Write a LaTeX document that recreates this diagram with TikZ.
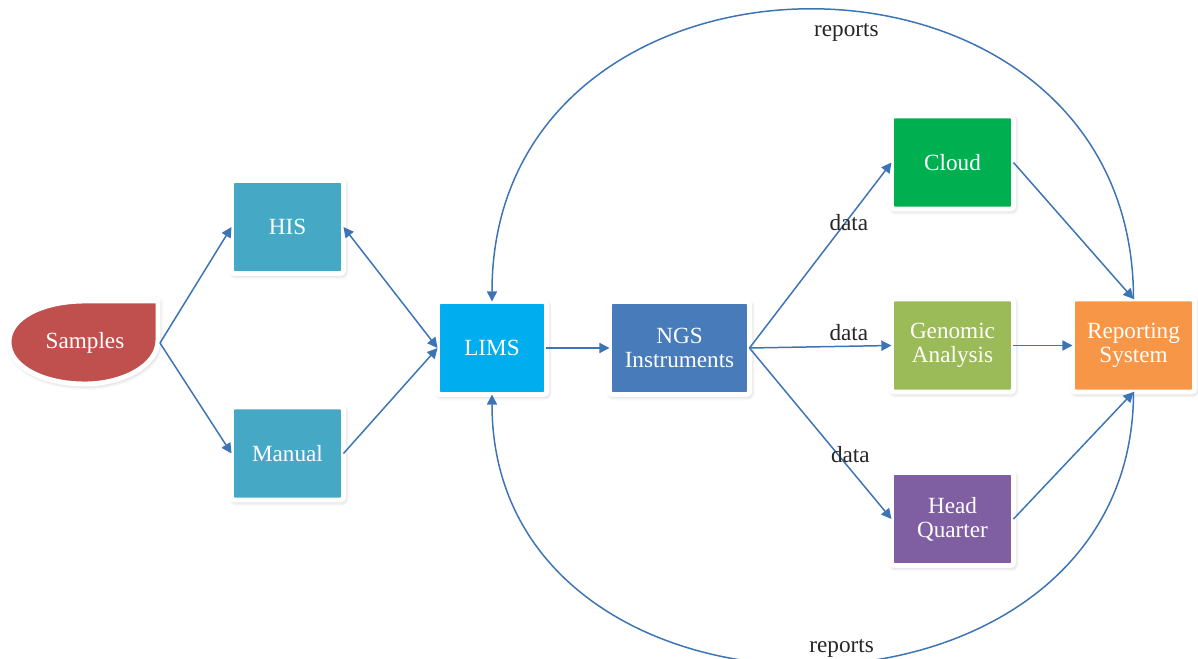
\documentclass[tikz,border=0pt]{standalone}
\usepackage{fontspec}
\setmainfont{Liberation Serif}
\usetikzlibrary{arrows.meta,shadows.blur}
\definecolor{flow}{HTML}{3D74B6}
\definecolor{smpred}{HTML}{C0504D}
\definecolor{hisblue}{HTML}{45A9C5}
\definecolor{limsblue}{HTML}{00AEEF}
\definecolor{ngsblue}{HTML}{477BBA}
\definecolor{cloudgreen}{HTML}{00B050}
\definecolor{genogreen}{HTML}{9BBB59}
\definecolor{hqpurple}{HTML}{7F5FA1}
\definecolor{reporange}{HTML}{F79646}
\tikzset{softshadow/.style={blur shadow={shadow xshift=0.7pt,shadow yshift=-1pt,shadow blur radius=2.5pt,shadow opacity=28}},
  blk/.style={draw=white,line width=2.8pt,rounded corners=1.5pt,align=center,text=white,outer sep=0pt,
    inner sep=2pt,minimum width=2.44cm,minimum height=1.86cm,softshadow},
  arr/.style={->,flow,line width=0.85pt},
  lbl/.style={text=black!85,inner sep=1pt}}

\begin{document}
\begin{tikzpicture}[x=0.02cm,y=-0.02cm,font=\fontsize{13.2}{13.8}\selectfont,>={Triangle[length=5.8pt,width=5.8pt]}]
\useasboundingbox (0,0) rectangle (1198,659);
\draw[white,line width=2.8pt,line join=round,fill=smpred,softshadow] (158,301) -- (158,340)
  .. controls (158,366) and (122,384) .. (85,384) .. controls (42,384) and (9,366) .. (9,342)
  .. controls (9,318) and (42,301) .. (85,301) -- cycle;
\node[text=white] (samples) at (85,343) {Samples};
\coordinate (smp-tip) at (160,343);
\node[blk,fill=hisblue,minimum width=2.24cm] (his) at (287.5,227) {HIS};
\node[blk,fill=hisblue,minimum width=2.24cm] (manual) at (287.5,453.5) {Manual};
\node[blk,fill=limsblue,minimum width=2.18cm] (lims) at (492,348) {LIMS};
\node[blk,fill=ngsblue,minimum width=2.8cm] (ngs) at (679.5,348) {NGS\\Instruments};
\node[blk,fill=cloudgreen] (cloud) at (952.5,162.5) {Cloud};
\node[blk,fill=genogreen] (genomic) at (952.5,345.5) {Genomic\\Analysis};
\node[blk,fill=hqpurple] (hq) at (952.5,519) {Head\\Quarter};
\node[blk,fill=reporange] (report) at (1133.5,345.5) {Reporting\\System};
\draw[arr] (smp-tip) -- (his.west);
\draw[arr] (smp-tip) -- (manual.west);
\draw[arr,<->] (his.east) -- (lims.west);
\draw[arr] (manual.east) -- (lims.west);
\draw[arr] (lims) -- (ngs);
\draw[arr] (ngs.east) -- node[lbl,pos=.7,yshift=-0.08cm] {data} (cloud.west);
\draw[arr] (ngs.east) -- node[lbl,pos=.7,yshift=0.27cm] {data} (genomic.west);
\draw[arr] (ngs.east) -- node[lbl,pos=.71,yshift=0.3cm] {data} (hq.west);
\draw[arr] (cloud.east) -- (report.north);
\draw[arr] (genomic) -- (report);
\draw[arr] (hq.east) -- (report.south);
\draw[arr] (report.north) .. controls +(0,-387) and +(0,-387) .. node[lbl,pos=.465,yshift=-0.42cm] {reports} (lims.north);
\draw[arr] (report.south) .. controls +(0,361) and +(0,361) .. node[lbl,pos=.47,yshift=0.28cm] {reports} (lims.south);
\end{tikzpicture}
\end{document}
